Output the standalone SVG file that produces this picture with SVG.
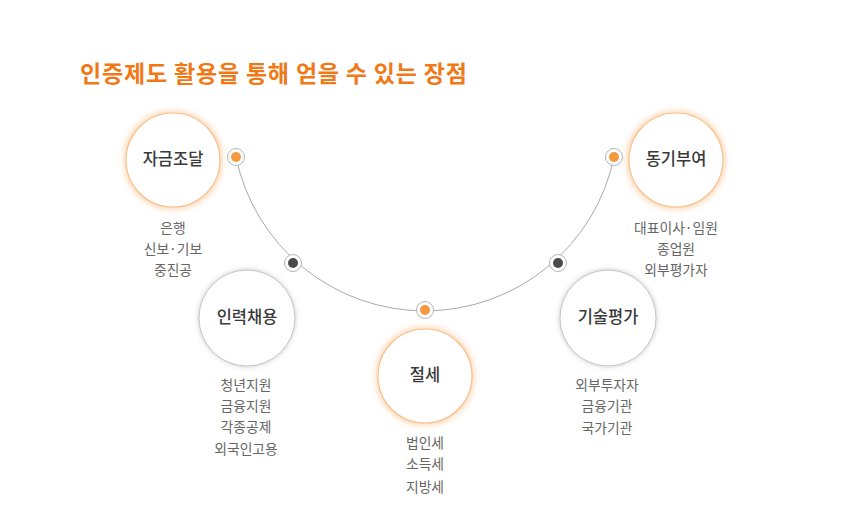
<svg xmlns="http://www.w3.org/2000/svg" width="864" height="524" viewBox="0 0 864 524">
<defs>
<filter id="shO" x="-30%" y="-30%" width="160%" height="160%">
<feMorphology in="SourceAlpha" operator="dilate" radius="1" result="d"/>
<feGaussianBlur in="d" stdDeviation="3" result="b"/>
<feFlood flood-color="#F7A050" flood-opacity="0.5"/>
<feComposite in2="b" operator="in" result="g"/>
<feMerge><feMergeNode in="g"/><feMergeNode in="SourceGraphic"/></feMerge>
</filter>
<filter id="shG" x="-30%" y="-30%" width="160%" height="160%">
<feGaussianBlur in="SourceAlpha" stdDeviation="2.5" result="b"/>
<feFlood flood-color="#888" flood-opacity="0.45"/>
<feComposite in2="b" operator="in" result="g"/>
<feMerge><feMergeNode in="g"/><feMergeNode in="SourceGraphic"/></feMerge>
</filter>
</defs>
<style>
text{font-family:"Noto Sans CJK KR","Noto Sans",sans-serif;text-anchor:middle}
.title{font-size:23px;font-weight:700;fill:#F07816;text-anchor:start}
.ring-o{fill:#fff;stroke:#F9C08A;stroke-width:1.2;filter:url(#shO)}
.ring-g{fill:#fff;stroke:#c4c4c4;stroke-width:1;filter:url(#shG)}
.lab{font-size:16.5px;font-weight:500;fill:#3a3a3a}
.sub{font-size:13.8px;fill:#666}
.dotr{fill:#fff;stroke:#b5b5b5;stroke-width:1}
.dot-o{fill:#F5993F}
.dot-d{fill:#4a4a4a}
</style>
<rect width="864" height="524" fill="#fff"/>
<text class="title" x="80" y="82" textLength="387" lengthAdjust="spacing">인증제도 활용을 통해 얻을 수 있는 장점</text>
<g id="connectors">
<path d="M236,157 A193,193 0 0 0 614,157" fill="none" stroke="#aaa" stroke-width="1"/>
<circle class="dotr" cx="236" cy="157" r="8.5"/><circle class="dot-o" cx="236" cy="157" r="5"/>
<circle class="dotr" cx="293" cy="263" r="8.5"/><circle class="dot-d" cx="293" cy="263" r="5"/>
<circle class="dotr" cx="425" cy="310" r="8.5"/><circle class="dot-o" cx="425" cy="310" r="5"/>
<circle class="dotr" cx="558" cy="263" r="8.5"/><circle class="dot-d" cx="558" cy="263" r="5"/>
<circle class="dotr" cx="614" cy="157" r="8.5"/><circle class="dot-o" cx="614" cy="157" r="5"/>
</g>
<g id="node-funding">
<circle class="ring-o" cx="173" cy="160" r="47"/>
<text class="lab" x="173" y="165">자금조달</text>
<text class="sub" x="173" y="233">은행</text>
<text class="sub" x="173" y="254">신보·기보</text>
<text class="sub" x="173" y="275">중진공</text>
</g>
<g id="node-hiring">
<circle class="ring-g" cx="247" cy="318" r="48"/>
<text class="lab" x="247" y="323">인력채용</text>
<text class="sub" x="246" y="390">청년지원</text>
<text class="sub" x="246" y="411">금융지원</text>
<text class="sub" x="246" y="432">각종공제</text>
<text class="sub" x="246" y="454">외국인고용</text>
</g>
<g id="node-tax">
<circle class="ring-o" cx="425" cy="376" r="47"/>
<text class="lab" x="425" y="381">절세</text>
<text class="sub" x="425" y="448">법인세</text>
<text class="sub" x="425" y="469">소득세</text>
<text class="sub" x="425" y="492">지방세</text>
</g>
<g id="node-tech">
<circle class="ring-g" cx="608" cy="318" r="48"/>
<text class="lab" x="608" y="323">기술평가</text>
<text class="sub" x="607" y="390">외부투자자</text>
<text class="sub" x="607" y="411">금융기관</text>
<text class="sub" x="607" y="433">국가기관</text>
</g>
<g id="node-motivation">
<circle class="ring-o" cx="676" cy="160" r="47"/>
<text class="lab" x="676" y="165">동기부여</text>
<text class="sub" x="676" y="233">대표이사·임원</text>
<text class="sub" x="676" y="254">종업원</text>
<text class="sub" x="676" y="275">외부평가자</text>
</g>
</svg>
